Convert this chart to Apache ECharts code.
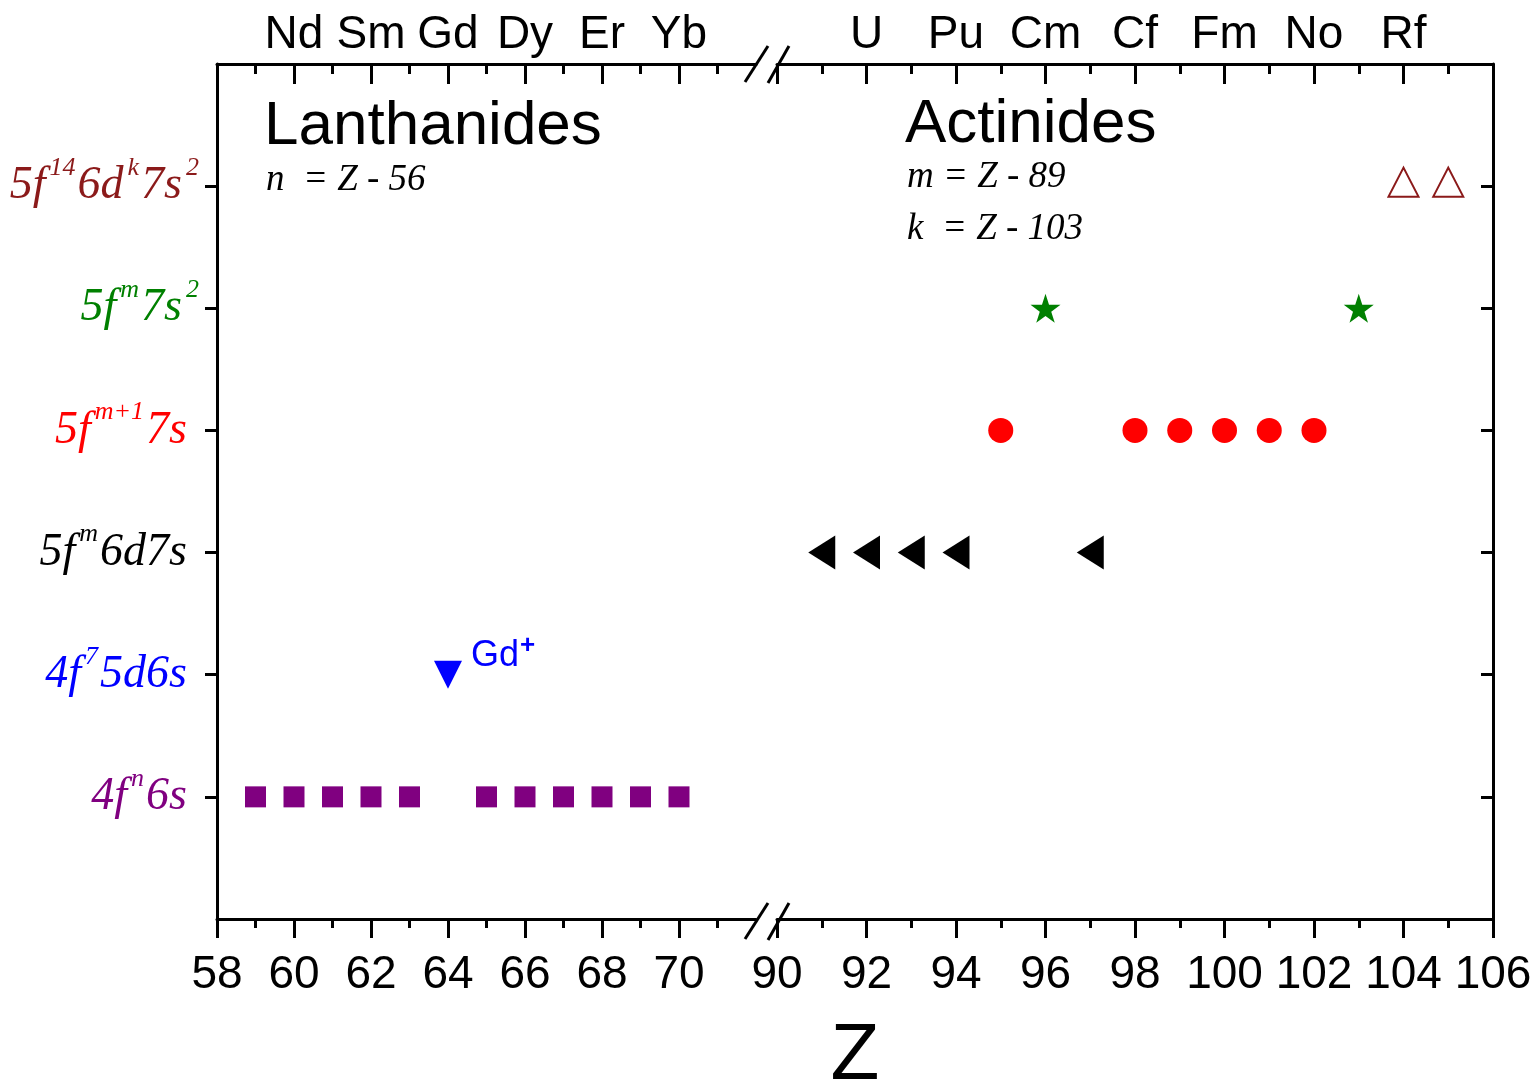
<!DOCTYPE html>
<html>
<head>
<meta charset="utf-8">
<script src="https://cdn.jsdelivr.net/npm/echarts@6/dist/echarts.min.js"></script>
<style>
  html, body { margin: 0; padding: 0; background: #fff; }
  #chart { width: 1539px; height: 1089px; }
</style>
</head>
<body>
<div id="chart"></div>
<script>
// axis tick values / element labels
const lanTickZ = [58, 60, 62, 64, 66, 68, 70];
const actTickZ = [90, 92, 94, 96, 98, 100, 102, 104, 106];
const lanElemZ = [60, 62, 64, 66, 68, 70];
const lanElemSym = ['Nd', 'Sm', 'Gd', 'Dy', 'Er', 'Yb'];
const actElemZ = [92, 94, 96, 98, 100, 102, 104];
const actElemSym = ['U', 'Pu', 'Cm', 'Cf', 'Fm', 'No', 'Rf'];

// configuration levels (y = 1..6), each as [base, superscript] pieces
const levels = [1, 2, 3, 4, 5, 6];
const levelParts = [
  [['4f', 'n'], ['6s', '']],
  [['4f', '7'], ['5d6s', '']],
  [['5f', 'm'], ['6d7s', '']],
  [['5f', 'm+1'], ['7s', '']],
  [['5f', 'm'], ['7s', '2']],
  [['5f', '14'], ['6d', 'k'], ['7s', '2']]
];
const levelColors = ['#800080', '#0000ff', '#000000', '#ff0000', '#008000', '#8b1a1a'];

// ground-state configuration data: Z values per level
const z4fn6s = [59, 60, 61, 62, 63, 65, 66, 67, 68, 69, 70];
const z4f75d6s = [64];
const z5fm6d7s = [91, 92, 93, 94, 97];
const z5fm17s = [95, 98, 99, 100, 101, 102];
const z5fm7s2 = [96, 103];
const z5f146dk7s2 = [104, 105];

const gdLabel = 'Gd';
const noteLan = ['n', '  = ', 'Z', ' - 56'];
const noteActM = ['m', ' = ', 'Z', ' - 89'];
const noteActK = ['k', '  = ', 'Z', ' - 103'];

const toPts = (zs, lvl) => zs.map((z) => [z, lvl]);

let myChart = echarts.init(document.getElementById('chart'));

// rich styles for y labels
const rich = { pad: { width: 14 } };
levelColors.forEach((c, i) => {
  rich['b' + i] = {
    fontFamily: 'Liberation Serif', fontStyle: 'italic', fontSize: 46,
    color: c, lineHeight: 62
  };
  rich['s' + i] = {
    fontFamily: 'Liberation Serif', fontStyle: 'italic', fontSize: 26,
    color: c, lineHeight: 30, verticalAlign: 'top', padding: [0, 2, 0, 4]
  };
});

const yLabel = (v) => {
  const i = v - 1;
  if (i < 0 || i >= levelParts.length) return '';
  const parts = levelParts[i];
  let s = '';
  parts.forEach(([b, sup]) => {
    s += '{b' + i + '|' + b + '}';
    if (sup) s += '{s' + i + '|' + sup + '}';
  });
  if (!parts[parts.length - 1][1]) s += '{pad| }';
  return s;
};

const lineStyle = { color: '#000', width: 3 };
const sansLabel = { fontFamily: 'Liberation Sans', fontSize: 46, color: '#000' };

const xBottom = (gridIndex, min, max, ticks) => ({
  gridIndex, type: 'value', position: 'bottom', min, max, interval: 2,
  axisLine: { show: true, lineStyle },
  axisTick: { show: true, inside: false, length: 19, lineStyle, customValues: ticks },
  minorTick: { show: true, splitNumber: 2, length: 9, lineStyle },
  splitLine: { show: false },
  axisLabel: { ...sansLabel, margin: 33, hideOverlap: false, customValues: ticks }
});

const xTop = (gridIndex, min, max, ticks, zs, syms) => ({
  gridIndex, type: 'value', position: 'top', min, max, interval: 2,
  axisLine: { show: true, lineStyle },
  axisTick: { show: true, inside: true, length: 20, lineStyle, customValues: ticks },
  minorTick: { show: true, splitNumber: 2, length: 10, lineStyle },
  splitLine: { show: false },
  axisLabel: {
    ...sansLabel, margin: 6, hideOverlap: false, customValues: zs,
    formatter: (v) => syms[zs.indexOf(v)] || ''
  }
});

const starPath = 'path://M50,0 L61.2,34.5 L97.6,34.5 L68.2,55.9 L79.4,90.5 L50,69.1 L20.6,90.5 L31.8,55.9 L2.4,34.5 L38.8,34.5 Z';

const renderChart = () => {
  const options = {
    animation: false,
    grid: [
      { left: 217, right: 783, top: 64, bottom: 170, outerBoundsMode: 'none', containLabel: false },
      { left: 777, right: 46, top: 64, bottom: 170, outerBoundsMode: 'none', containLabel: false }
    ],
    xAxis: [
      xBottom(0, 58, 72, lanTickZ),
      xTop(0, 58, 72, lanTickZ, lanElemZ, lanElemSym),
      xBottom(1, 90, 106, actTickZ),
      xTop(1, 90, 106, actTickZ, actElemZ, actElemSym)
    ],
    yAxis: [
      {
        gridIndex: 0, type: 'value', position: 'left', min: 0, max: 7, interval: 1,
        axisLine: { show: true, lineStyle },
        axisTick: { show: true, inside: false, length: 12, lineStyle, customValues: levels },
        splitLine: { show: false },
        axisLabel: { margin: 16, hideOverlap: false, customValues: levels, formatter: yLabel, rich }
      },
      {
        gridIndex: 1, type: 'value', position: 'right', min: 0, max: 7, interval: 1,
        axisLine: { show: true, lineStyle },
        axisTick: { show: true, inside: true, length: 12, lineStyle, customValues: levels },
        splitLine: { show: false },
        axisLabel: { show: false }
      }
    ],
    series: [
      {
        type: 'scatter', xAxisIndex: 0, yAxisIndex: 0,
        data: toPts(z4fn6s, 1), symbol: 'rect', symbolSize: 21,
        itemStyle: { color: '#800080', opacity: 1 }
      },
      {
        type: 'scatter', xAxisIndex: 0, yAxisIndex: 0,
        data: toPts(z4f75d6s, 2), symbol: 'triangle', symbolRotate: 180, symbolSize: [28, 28],
        itemStyle: { color: '#0000ff', opacity: 1 },
        label: {
          show: true, position: 'right', offset: [4, -19],
          formatter: '{g|' + gdLabel + '}{p|+}',
          rich: {
            g: { fontFamily: 'Liberation Sans', fontSize: 36, color: '#0000ff', lineHeight: 46 },
            p: { fontFamily: 'Liberation Sans', fontSize: 26, fontWeight: 'bold', color: '#0000ff', lineHeight: 20, verticalAlign: 'top', padding: [0, 0, 0, 1] }
          }
        }
      },
      {
        type: 'scatter', xAxisIndex: 2, yAxisIndex: 1,
        data: toPts(z5fm6d7s, 3), symbol: 'triangle', symbolRotate: 90, symbolSize: [34, 27],
        itemStyle: { color: '#000000', opacity: 1 }
      },
      {
        type: 'scatter', xAxisIndex: 2, yAxisIndex: 1,
        data: toPts(z5fm17s, 4), symbol: 'circle', symbolSize: 25,
        itemStyle: { color: '#ff0000', opacity: 1 }
      },
      {
        type: 'scatter', xAxisIndex: 2, yAxisIndex: 1,
        data: toPts(z5fm7s2, 5), symbol: starPath, symbolSize: [30, 29],
        itemStyle: { color: '#008000', opacity: 1 }
      },
      {
        type: 'scatter', xAxisIndex: 2, yAxisIndex: 1,
        data: toPts(z5f146dk7s2, 6), symbol: 'triangle', symbolSize: [30, 29], symbolOffset: [0, -4],
        itemStyle: { color: '#ffffff', borderColor: '#8b1a1a', borderWidth: 2, opacity: 1 }
      }
    ],
    graphic: [
      // axis break marks
      { type: 'line', shape: { x1: 745, y1: 82, x2: 768, y2: 46 }, style: { stroke: '#000', lineWidth: 3 } },
      { type: 'line', shape: { x1: 768, y1: 83, x2: 789, y2: 46 }, style: { stroke: '#000', lineWidth: 3 } },
      { type: 'line', shape: { x1: 745, y1: 939, x2: 768, y2: 903 }, style: { stroke: '#000', lineWidth: 3 } },
      { type: 'line', shape: { x1: 768, y1: 940, x2: 789, y2: 903 }, style: { stroke: '#000', lineWidth: 3 } },
      {
        type: 'text', x: 264, y: 127,
        style: { text: 'Lanthanides', font: '62px "Liberation Sans"', fill: '#000', verticalAlign: 'middle' }
      },
      {
        type: 'text', x: 905, y: 125,
        style: { text: 'Actinides', font: '62px "Liberation Sans"', fill: '#000', verticalAlign: 'middle' }
      },
      {
        type: 'text', x: 266, y: 180,
        style: { text: noteLan.join(''), font: 'italic 37px "Liberation Serif"', fill: '#000', verticalAlign: 'middle' }
      },
      {
        type: 'text', x: 907, y: 177,
        style: { text: noteActM.join(''), font: 'italic 37px "Liberation Serif"', fill: '#000', verticalAlign: 'middle' }
      },
      {
        type: 'text', x: 907, y: 229,
        style: { text: noteActK.join(''), font: 'italic 37px "Liberation Serif"', fill: '#000', verticalAlign: 'middle' }
      },
      {
        type: 'text', x: 855, y: 1057,
        style: { text: 'Z', font: '80px "Liberation Sans"', fill: '#000', align: 'center', verticalAlign: 'middle' }
      }
    ]
  };
  myChart.setOption(options);
};

renderChart();
</script>
</body>
</html>
